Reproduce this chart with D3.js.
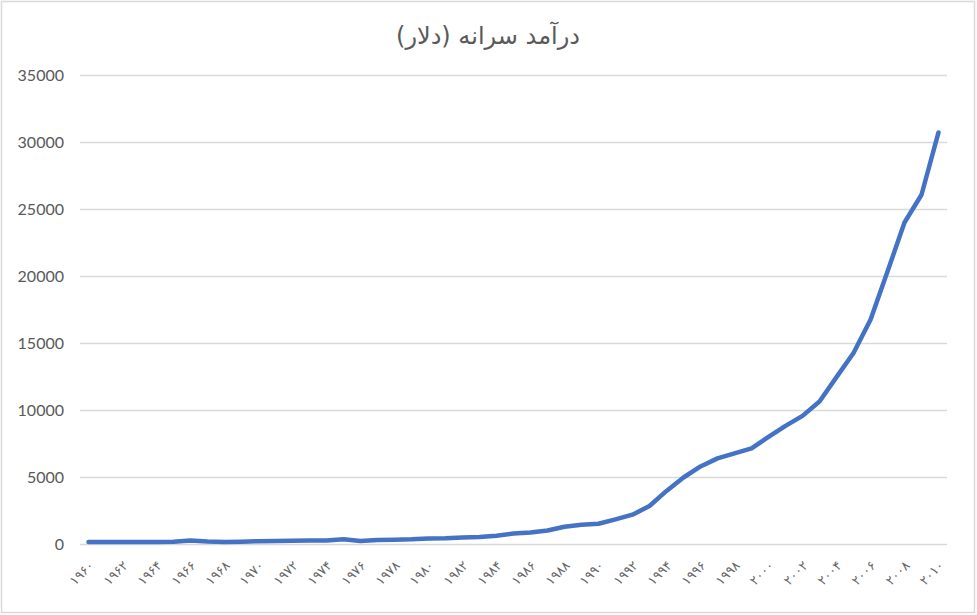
<!DOCTYPE html>
<html>
<head>
<meta charset="utf-8">
<script src="https://cdn.jsdelivr.net/npm/d3@7"></script>
<style>
  body { margin: 0; background: #fff; }
  svg { display: block; }
</style>
</head>
<body>
<svg id="chart"></svg>
<script>
const years = d3.range(1960, 2011);
const income = [
  180, 180, 185, 190, 195, 210, 290, 220, 190, 210,
  250, 270, 280, 290, 300, 400, 260, 340, 360, 390,
  450, 470, 520, 560, 650, 825, 900, 1050, 1325, 1475,
  1550, 1875, 2225, 2875, 4000, 5000, 5825, 6425, 6800, 7175,
  8025, 8856, 9600, 10670, 12490, 14290, 16770, 20370, 24030, 26100,
  30750
];
const yTicks = [0, 5000, 10000, 15000, 20000, 25000, 30000, 35000];
const title = "درآمد سرانه (دلار)";

const width = 977, height = 615;
const faDigits = "۰۱۲۳۴۵۶۷۸۹";
let toFa = n => String(n).replace(/\d/g, d => faDigits[d]);

let svg = d3.select('#chart')
  .attr('width', width)
  .attr('height', height);

svg.append('rect')
  .attr('x', 1.5).attr('y', 1.5)
  .attr('width', width - 4).attr('height', height - 4)
  .attr('fill', '#fff')
  .attr('stroke', '#d9d9d9')
  .attr('stroke-width', 1.5);

let x = d3.scalePoint()
  .domain(years)
  .range([80, 947])
  .padding(0.5);

let y = d3.scaleLinear()
  .domain([0, 35000])
  .range([544.5, 75.5]);

// gridlines
svg.append('g')
  .selectAll('line')
  .data(yTicks)
  .enter()
  .append('line')
    .attr('x1', 80).attr('x2', 947)
    .attr('y1', d => y(d)).attr('y2', d => y(d))
    .attr('stroke', '#d9d9d9')
    .attr('stroke-width', 1.3);

// y labels
svg.append('g')
  .selectAll('text')
  .data(yTicks)
  .enter()
  .append('text')
    .attr('x', 64)
    .attr('y', d => y(d))
    .attr('dy', '0.35em')
    .attr('text-anchor', 'end')
    .attr('font-family', 'Lato, "Open Sans", sans-serif')
    .attr('font-size', 16)
    .attr('fill', '#595959')
    .text(d => d);

// x labels every 2 years
svg.append('g')
  .selectAll('text')
  .data(years.filter(d => (d - 1960) % 2 === 0))
  .enter()
  .append('text')
    .attr('transform', d => `translate(${x(d) + 3},${563}) rotate(-45)`)
    .attr('text-anchor', 'end')
    .attr('dy', '0.35em')
    .attr('font-family', '"DejaVu Sans", sans-serif')
    .attr('font-size', 13)
    .attr('letter-spacing', 2.5)
    .attr('fill', '#666')
    .text(d => toFa(d));

// line
let line = d3.line()
  .x((d, i) => x(years[i]))
  .y(d => y(d));

svg.append('path')
  .datum(income)
  .attr('d', line)
  .attr('fill', 'none')
  .attr('stroke', '#4472c4')
  .attr('stroke-width', 4.5)
  .attr('stroke-linejoin', 'round')
  .attr('stroke-linecap', 'round');

// title
svg.append('text')
  .attr('x', 488)
  .attr('y', 36)
  .attr('dy', '0.35em')
  .attr('text-anchor', 'middle')
  .attr('font-family', '"DejaVu Sans", sans-serif')
  .attr('font-size', 24)
  .attr('fill', '#595959')
  .text(title);
</script>
</body>
</html>
